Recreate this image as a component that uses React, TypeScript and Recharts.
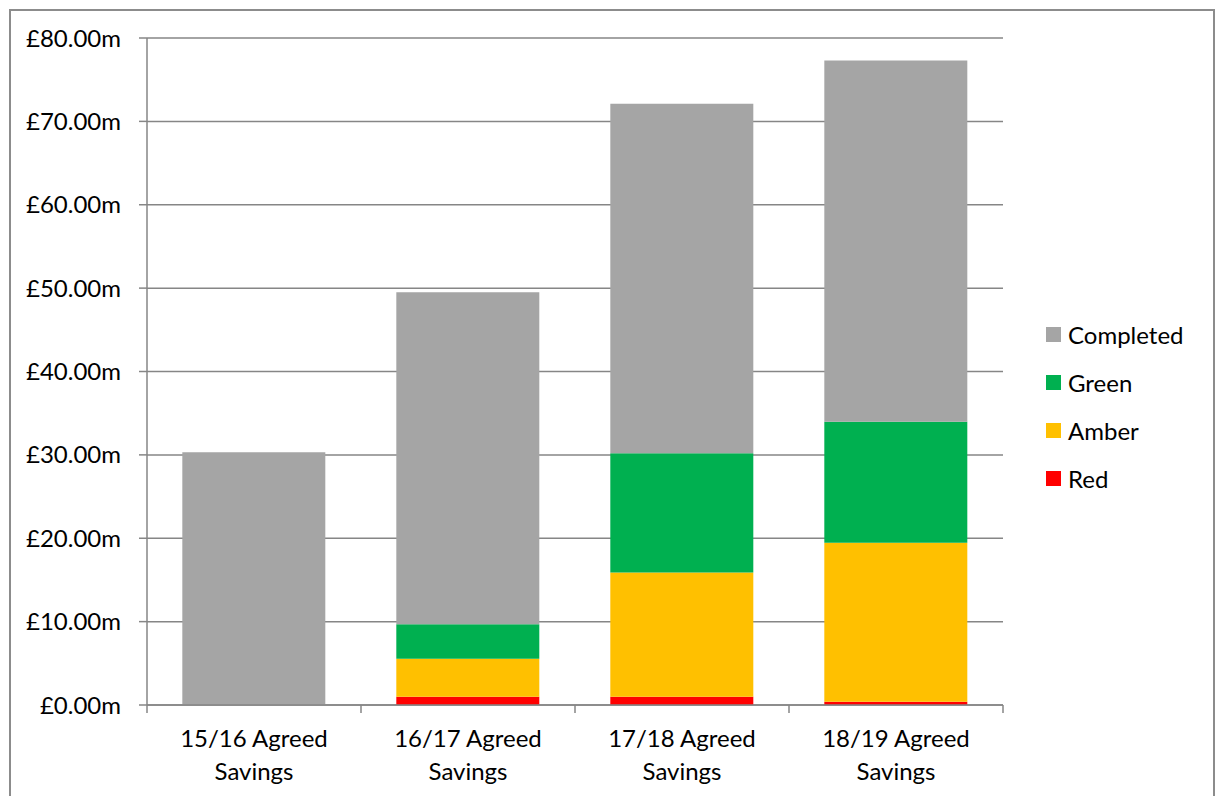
import React from 'react';
import { BarChart, Bar, XAxis, YAxis, CartesianGrid } from 'recharts';

const categories = ['15/16 Agreed Savings', '16/17 Agreed Savings', '17/18 Agreed Savings', '18/19 Agreed Savings'];
const red = [0, 1.0, 1.0, 0.4];
const amber = [0, 4.55, 14.9, 19.06];
const green = [0, 4.15, 14.3, 14.5];
const completed = [30.3, 39.8, 41.9, 43.35];
const yTicks = [0, 10, 20, 30, 40, 50, 60, 70, 80];

const data = categories.map((name, i) => ({
  name,
  Red: red[i],
  Amber: amber[i],
  Green: green[i],
  Completed: completed[i],
}));

const legendItems = [
  { name: 'Completed', color: '#a5a5a5' },
  { name: 'Green', color: '#00b050' },
  { name: 'Amber', color: '#ffc000' },
  { name: 'Red', color: '#ff0000' },
];

const FONT = 'Lato, "Open Sans", sans-serif';
const AXIS = '#868686';

const W = 1216;
const H = 796;
const margin = { top: 38, right: 213, bottom: 0, left: 27 };
const Y_AXIS_W = 120;
const BAND = (W - margin.left - margin.right - Y_AXIS_W) / categories.length;

// category label in two lines, plus the tick marks between categories
const CategoryTick = (props: any) => {
  const { x, y, payload, index } = props;
  const words = String(payload.value).split(' ');
  const first = words.slice(0, 2).join(' ');
  const second = words.slice(2).join(' ');
  const isLast = index === categories.length - 1;
  return (
    <g>
      <line x1={x - BAND / 2} x2={x - BAND / 2} y1={y} y2={y + 8} stroke={AXIS} strokeWidth={1.5} />
      {isLast && <line x1={x + BAND / 2} x2={x + BAND / 2} y1={y} y2={y + 8} stroke={AXIS} strokeWidth={1.5} />}
      <text x={x} y={y} textAnchor="middle" fontSize={24} fill="#000" fontFamily={FONT}>
        <tspan x={x} dy={42}>{first}</tspan>
        <tspan x={x} dy={33}>{second}</tspan>
      </text>
    </g>
  );
};

export default function App() {
  return (
    <div style={{ position: 'absolute', left: 0, top: 0, width: W, height: H, background: '#fff', overflow: 'hidden' }}>
      <div style={{ position: 'absolute', left: 9, top: 9, width: 1202, height: 800, border: '2px solid #8c8c8c' }} />
      <div style={{ position: 'absolute', left: 0, top: 0 }}>
        <BarChart width={W} height={H} data={data} margin={margin} barCategoryGap="16.5%">
          <CartesianGrid vertical={false} stroke={AXIS} strokeWidth={1.5} />
          <XAxis
            dataKey="name"
            tick={<CategoryTick />}
            tickLine={false}
            tickSize={0}
            tickMargin={0}
            axisLine={{ stroke: AXIS, strokeWidth: 1.5 }}
            interval={0}
            height={91}
          />
          <YAxis
            width={Y_AXIS_W}
            domain={[0, 80]}
            ticks={yTicks}
            tickFormatter={(v: number) => `£${v.toFixed(2)}m`}
            tick={{ fontSize: 24, fill: '#000', fontFamily: FONT }}
            tickSize={8}
            tickMargin={18}
            tickLine={{ stroke: AXIS, strokeWidth: 1.5 }}
            axisLine={{ stroke: AXIS, strokeWidth: 1.5 }}
          />
          <Bar dataKey="Red" stackId="s" fill="#ff0000" isAnimationActive={false} />
          <Bar dataKey="Amber" stackId="s" fill="#ffc000" isAnimationActive={false} />
          <Bar dataKey="Green" stackId="s" fill="#00b050" isAnimationActive={false} />
          <Bar dataKey="Completed" stackId="s" fill="#a5a5a5" isAnimationActive={false} />
        </BarChart>
      </div>
      <div style={{ position: 'absolute', left: 1046, top: 310, fontFamily: FONT, fontSize: 24, color: '#000' }}>
        {legendItems.map((it) => (
          <div key={it.name} style={{ display: 'flex', alignItems: 'center', height: 48 }}>
            <span style={{ width: 15, height: 15, background: it.color, marginRight: 7, display: 'inline-block' }} />
            {it.name}
          </div>
        ))}
      </div>
    </div>
  );
}
